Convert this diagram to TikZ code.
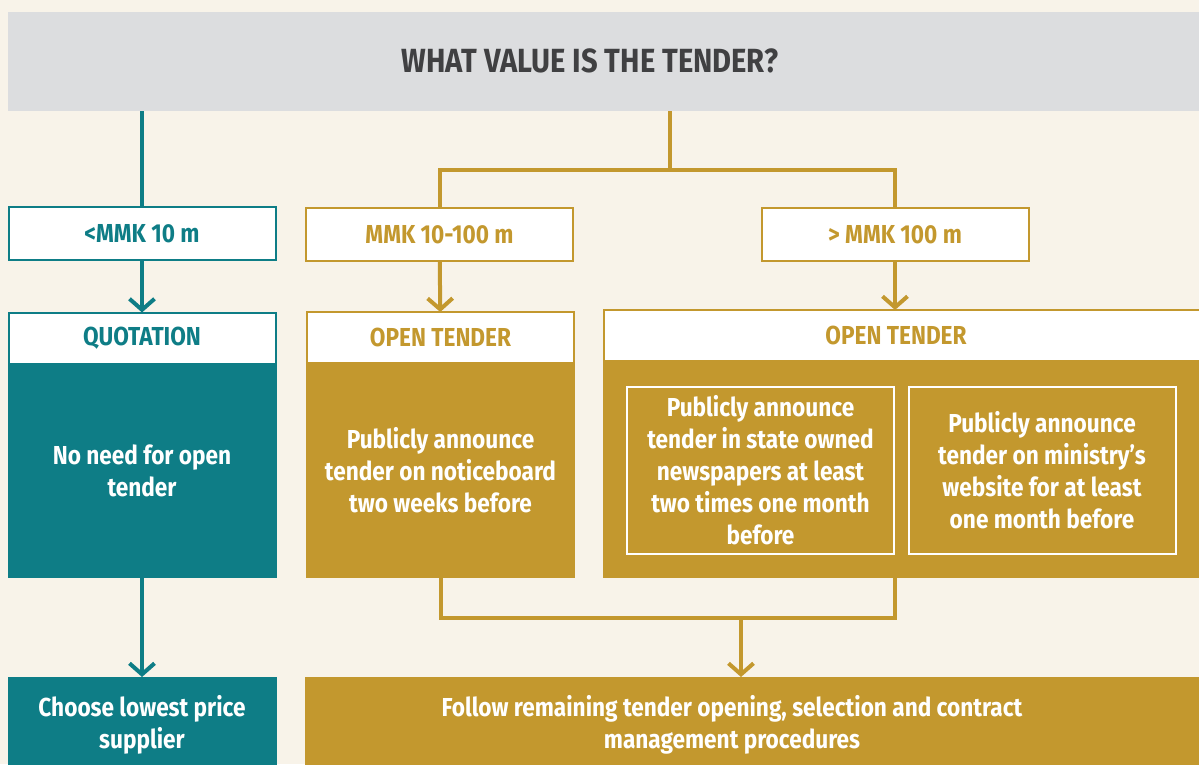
\documentclass[tikz,border=0pt]{standalone}
\usepackage{fontspec}
\setmainfont{Fira Sans}[FakeStretch=0.87]
\usetikzlibrary{arrows.meta}
\definecolor{tealc}{HTML}{0E7D86}
\definecolor{goldc}{HTML}{C3982E}
\definecolor{greyc}{HTML}{DCDDDF}
\definecolor{darkc}{HTML}{404042}
\definecolor{creamc}{HTML}{F8F3E9}

\begin{document}
\begin{tikzpicture}[x=1pt,y=-1pt,>={Straight Barb[length=11pt,width=25pt]},line width=4pt]
	\tikzset{every node/.style={inner sep=0pt,outer sep=0pt,align=center,font=\bfseries\fontsize{26}{32}\selectfont}}
	\tikzset{tag/.style={draw=#1,line width=2pt,fill=white,text=#1,minimum width=267pt,minimum height=53pt}}
	\tikzset{head/.style={draw=#1,line width=2pt,fill=white,text=#1,minimum height=51pt}}
	\tikzset{body/.style={fill=#1,text=white}}
	\tikzset{inbox/.style={draw=white,line width=2pt,text=white,minimum width=267pt,minimum height=167pt}}
	\useasboundingbox (0,0) rectangle (1199,764);
	\clip (0,0) rectangle (1199,764);
	\fill[creamc] (0,0) rectangle (1199,764);
	\node[fill=greyc,minimum width=1200pt,minimum height=99pt,anchor=north west] (V) at (8,12) {};
	\node[text=darkc,font=\bfseries\fontsize{33.5}{38}\selectfont] (Vt) at (590,61) {WHAT VALUE IS THE TENDER?};
	\node[tag=tealc] (A) at (142,233.5) {<MMK 10 m};
	\node[tag=goldc] (B) at (439.5,234.5) {MMK 10-100 m};
	\node[tag=goldc] (C) at (895,234.5) {> MMK 100 m};
	\node[head=tealc,minimum width=267pt] (Qh) at (142,338) {QUOTATION};
	\node[body=tealc,minimum width=269pt,minimum height=214pt,anchor=north] (Q) at (142,364) {No need for open\\tender};
	\node[head=goldc,minimum width=267pt] (Oh1) at (440.5,337.5) {OPEN TENDER};
	\node[body=goldc,minimum width=269pt,minimum height=215pt,anchor=north] (O1) at (440.5,363) {Publicly announce\\tender on noticeboard\\two weeks before};
	\node[head=goldc,minimum width=620pt,anchor=north west] (Oh2) at (604,310) {};
	\node[text=goldc] (Ot) at (896,335) {OPEN TENDER};
	\node[body=goldc,minimum width=620pt,minimum height=218pt,anchor=north west] (O2) at (603,360) {};
	\node[inbox] (P1) at (760.5,470.5) {Publicly announce\\tender in state owned\\newspapers at least\\two times one month\\before};
	\node[inbox] (P2) at (1042,470.5) {Publicly announce\\tender on ministry’s\\website for at least\\one month before};
	\node[body=tealc,minimum width=269pt,minimum height=96pt,anchor=north] (S) at (142,677) {Choose lowest price\\supplier};
	\node[body=goldc,minimum width=900pt,minimum height=96pt,anchor=north west] (F) at (305,677) {};
	\node[text=white] (Ft) at (732,725) {Follow remaining tender opening, selection and contract\\management procedures};
	\coordinate (M) at (670,170);
	\coordinate (J) at (741,618);
	\draw[tealc] (V.south -| A) -- (A);
	\draw[tealc,->] (A) -- (Qh);
	\draw[tealc,->] (Q) -- (S);
	\draw[goldc] (V.south -| M) -- (M);
	\draw[goldc] (B) |- (M) -| (C);
	\draw[goldc,->] (B) -- (Oh1);
	\draw[goldc,->] (C) -- (C |- Oh2.north);
	\draw[goldc] (O1) |- (J) -| (C |- O2.south);
	\draw[goldc,->] (J) -- (J |- F.north);
\end{tikzpicture}
\end{document}
